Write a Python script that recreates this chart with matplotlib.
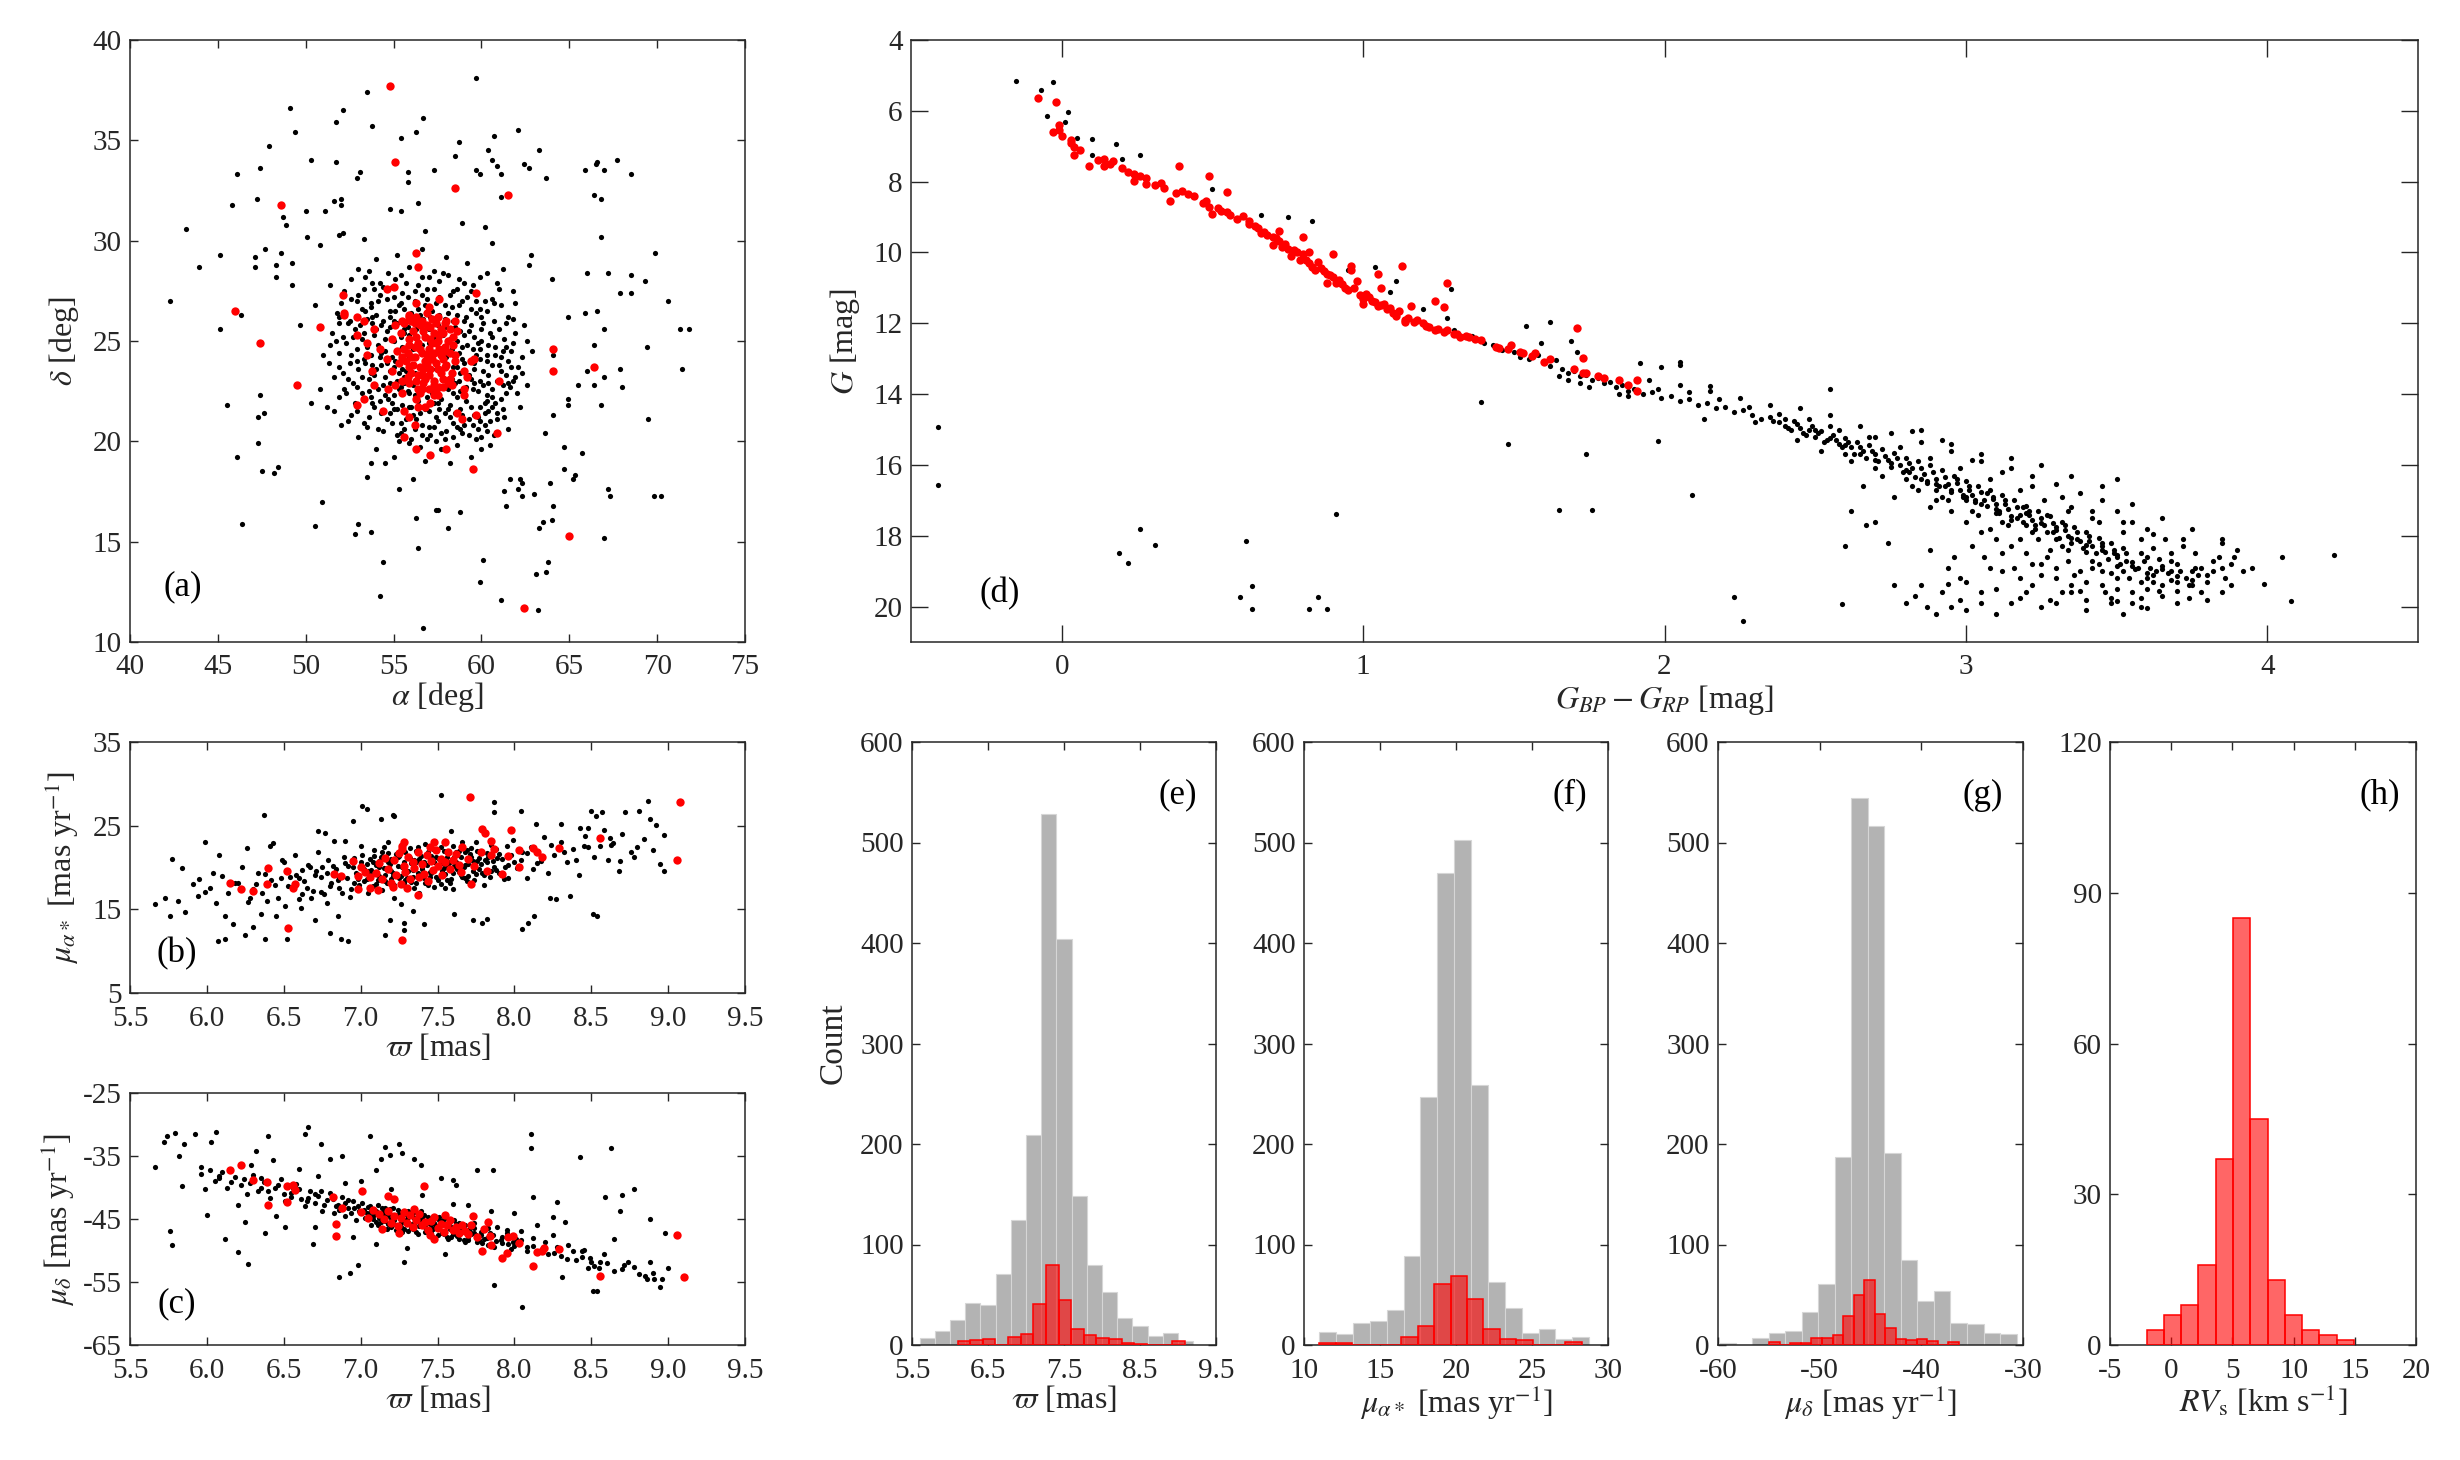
import numpy as np
import matplotlib.pyplot as plt
from matplotlib.ticker import FormatStrFormatter

plt.rcParams.update({
    "font.family": ["Liberation Serif", "DejaVu Serif"],
    "mathtext.fontset": "stix",
    "axes.unicode_minus": False,
    "axes.edgecolor": "#262626",
    "axes.linewidth": 1.1,
    "xtick.color": "#262626",
    "ytick.color": "#262626",
    "text.color": "#262626",
    "axes.labelcolor": "#262626",
})


def pairs(text):
    return np.array(text.split(), dtype=float).reshape(-1, 2)


# (a) sky positions: alpha, delta [deg]
sky_field = pairs("""
59.7 38.1 53.5 37.4 49.1 36.6 52.1 36.5 56.7 36.1 51.7 35.9 53.8 35.7 49.4 35.4 62.1 35.5 60.7 35.2
55.4 35.1 58.7 34.9 56.3 35.4 47.9 34.7 60.4 34.5 63.3 34.5 50.3 34.0 58.5 34.2 60.6 34.0 62.4 33.8
51.7 33.9 47.4 33.6 46.1 33.3 53.1 33.4 55.8 33.4 57.3 33.5 59.7 33.5 62.7 33.6 60.9 33.7 61.1 33.3
65.9 33.5 66.6 33.9 66.5 33.8 67.0 33.5 67.7 34.0 68.5 33.3 52.9 33.1 55.8 32.9 63.7 33.1 59.9 33.3
66.4 32.3 66.8 32.1 61.1 32.2 47.2 32.1 45.8 31.8 52.0 32.1 51.6 32.0 56.4 31.9 54.8 31.6 55.4 31.5
50.0 31.5 51.1 31.5 52.0 31.8 48.7 31.2 48.9 30.8 58.9 30.9 43.2 30.6 56.8 30.5 60.2 30.7 66.8 30.2
51.9 30.3 52.1 30.4 50.1 30.2 50.8 29.8 53.3 30.1 60.6 29.9 45.1 29.3 47.1 29.2 47.7 29.6 48.6 29.4
69.9 29.4 62.8 29.3 62.7 28.8 43.9 28.7 47.1 28.7 48.3 28.8 49.2 28.9 66.0 28.4 67.2 28.4 68.5 28.3
69.3 28.0 64.0 28.1 61.2 28.6 48.3 28.2 49.2 27.8 67.9 27.4 68.5 27.4 61.8 27.5 70.6 27.0 42.3 27.0
46.3 26.3 64.9 26.2 65.9 26.4 66.6 26.5 67.0 25.6 71.3 25.6 71.8 25.6 69.4 24.7 45.1 25.6 49.7 25.8
66.4 24.8 64.1 24.3 71.4 23.6 67.9 23.6 66.0 23.5 67.0 23.2 65.5 22.8 66.4 22.8 68.0 22.7 64.9 22.1
47.4 22.3 45.5 21.8 66.8 21.8 64.9 21.8 47.6 21.4 47.3 21.2 64.1 21.3 69.5 21.1 50.3 21.9 51.6 21.5
52.4 21.0 47.3 19.9 64.7 19.7 63.6 20.4 46.1 19.2 65.7 19.4 47.5 18.5 48.2 18.4 48.4 18.7 53.7 18.9
54.5 18.9 64.7 18.6 65.3 18.3 65.2 18.1 63.9 17.9 62.2 18.1 61.6 18.1 62.3 17.9 62.1 17.6 63.0 17.4
61.3 17.5 67.2 17.6 67.3 17.3 69.8 17.3 70.2 17.3 53.5 18.2 55.3 17.6 56.1 18.1 50.9 17.0 62.3 17.3
61.4 16.8 64.1 16.8 57.4 16.6 57.5 16.6 58.8 16.5 56.3 16.2 53.0 15.9 46.4 15.9 63.5 16.0 64.0 16.1
63.3 15.7 50.5 15.8 52.8 15.4 53.7 15.5 58.1 15.7 67.0 15.2 56.4 14.7 54.4 14.0 60.1 14.1 63.8 14.0
63.7 13.5 63.1 13.4 59.9 13.0 54.2 12.3 61.1 12.1 63.2 11.6 56.7 10.7
53.0 28.6 54.7 28.4 55.9 28.7 57.3 28.5 58.1 28.3 52.6 28.1 53.8 27.9 55.1 28.1 56.4 27.8 57.6 28.0
59.0 27.9 52.2 27.5 53.3 27.6 54.2 27.3 55.5 27.4 56.9 27.6 58.2 27.3 59.4 27.5 52.9 27.0 53.7 26.9
54.6 27.1 55.3 26.8 56.2 27.0 57.4 26.9 58.7 26.8 59.9 26.6 51.8 26.4 53.2 26.6 54.0 26.3 54.8 26.5
55.6 26.6 56.5 26.3 57.2 26.5 58.1 26.4 59.1 26.2 60.3 26.5 52.4 25.9 53.5 26.1 54.3 25.8 55.0 26.0
55.8 25.7 56.7 26.1 57.5 25.8 58.4 26.0 59.4 25.8 60.1 25.9 61.0 25.6 51.5 25.4 52.8 25.6 53.9 25.3
54.6 25.5 55.4 25.2 56.3 25.6 57.8 25.3 58.8 25.5 59.6 25.2 60.5 25.4 61.3 25.1 52.3 24.9 53.2 25.1
54.1 24.8 55.0 25.0 57.0 24.9 58.2 25.1 59.2 24.8 60.0 25.0 60.8 24.7 61.8 24.9 51.9 24.4 52.9 24.6
53.7 24.3 54.5 24.5 58.7 24.4 59.5 24.6 60.3 24.3 61.2 24.5 52.5 23.9 53.3 24.1 54.3 23.8 55.1 24.0
59.0 23.9 59.9 24.1 60.6 23.8 61.5 24.0 62.1 23.7 52.1 23.4 53.0 23.6 53.9 23.3 54.8 23.5 58.8 23.4
59.6 23.6 60.4 23.3 61.1 23.5 61.9 23.2 52.7 22.9 53.6 23.1 54.4 22.8 55.2 23.0 58.5 22.9 59.4 23.1
60.1 22.8 60.9 23.0 61.6 22.7 53.2 22.4 54.1 22.6 55.0 22.3 55.8 22.5 57.2 22.4 58.1 22.6 59.0 22.3
59.8 22.5 60.6 22.2 61.4 22.4 53.8 21.9 54.7 22.1 55.5 21.8 56.4 22.0 57.3 21.9 58.2 21.8 59.1 22.0
59.9 21.7 60.8 21.9 54.3 21.4 55.2 21.6 56.1 21.3 57.0 21.5 57.9 21.4 58.8 21.6 59.6 21.3 60.4 21.5
54.9 20.9 55.7 21.1 56.6 20.8 57.5 21.0 58.4 20.9 59.3 21.1 60.2 20.8 55.4 20.4 56.2 20.6 57.1 20.3
58.0 20.5 58.9 20.4 59.8 20.6 60.7 20.3 55.9 19.9 57.4 20.0 58.6 19.8 59.7 20.1 55.8 24.3 56.6 24.8
57.4 23.6 58.0 24.2 56.2 23.4 57.0 25.6 55.6 22.9 58.4 23.7 50.5 26.8 51.0 24.3 50.8 22.6 51.4 27.8
51.2 21.7 52.0 20.8 53.0 20.2 54.0 19.6 55.0 19.2 56.8 19.0 58.2 18.9 59.4 19.2 60.5 19.8 61.5 20.6
62.2 21.7 62.6 22.8 62.9 24.5 62.4 25.8 61.9 26.9 61.0 27.6 60.3 28.4 59.2 28.9 58.0 29.2 56.6 29.6
55.2 29.3 54.0 29.1 53.4 28.2 54.4 27.7 55.7 27.9 57.0 28.2 58.6 27.6 60.6 27.1 61.5 26.2 61.9 25.4
62.3 24.2 61.8 23.0 61.2 21.6 60.0 20.2 58.6 20.7 57.7 19.6 56.5 19.7 55.3 20.0 54.4 20.5 53.6 21.2
52.8 21.9 52.2 22.6 51.6 23.2 51.4 24.8 51.9 25.9 52.6 27.1 53.7 22.2 54.9 21.9 56.0 21.7 60.3 22.0
53.4 26.5 54.1 27.0 54.8 26.2 55.4 26.9 56.0 26.4 56.8 26.8 57.6 26.3 58.3 26.7 59.0 26.0 59.7 26.4
53.1 25.8 53.8 25.9 54.5 25.1 55.2 25.9 55.9 25.3 56.7 25.4 57.3 25.2 58.0 25.7 58.6 25.0 59.3 25.5
60.0 25.6 60.7 26.0 52.7 25.2 53.5 24.7 54.3 24.4 54.9 24.2 55.5 24.7 58.9 24.7 59.7 24.3 60.4 24.8
61.1 24.2 52.9 24.0 53.8 23.8 54.6 23.9 55.3 23.4 58.6 23.7 59.3 23.3 60.1 23.5 60.8 24.3 61.4 23.3
53.2 23.2 54.0 23.6 54.8 22.9 55.6 23.2 58.3 23.1 59.1 22.7 59.9 23.0 60.6 22.6 53.6 22.5 54.5 22.3
55.3 22.6 56.1 22.8 56.9 22.2 57.7 22.1 58.6 22.2 59.5 22.6 60.3 22.3 61.1 22.1 54.2 22.0 55.0 21.6
55.9 21.7 56.8 21.6 57.6 21.6 58.5 21.4 59.4 21.7 60.2 21.4 54.6 21.1 55.4 20.9 56.3 21.1 57.3 20.7
58.2 21.2 59.0 20.8 59.9 21.0 60.9 21.1 55.6 20.6 56.6 20.3 57.7 20.4 58.4 20.2 59.3 20.3 60.3 20.5
53.0 27.3 53.9 27.6 54.9 27.7 55.8 27.2 56.6 27.3 57.6 27.2 58.4 27.5 59.2 27.2 60.2 27.0 52.5 26.0
51.7 25.0 51.9 23.7 52.3 22.4 52.9 21.5 53.5 20.7 60.9 21.4 61.5 22.9 61.7 24.5 61.4 25.9 60.7 26.9
55.4 24.6 55.6 25.6 55.7 23.5 58.5 25.7 58.7 23.0 58.4 22.4 55.9 22.4 56.9 27.1 57.9 26.8
53.7 26.7 54.4 26.0 55.1 26.5 55.8 26.0 56.4 26.6 57.1 26.2 57.9 26.1 58.6 26.3 59.4 26.6 60.0 26.2
53.3 25.4 54.0 25.6 54.8 25.7 55.6 25.4 56.1 24.6 58.3 24.6 59.0 25.3 59.8 24.9 60.6 25.2 61.4 24.7
52.6 24.3 53.4 23.9 54.2 24.2 55.0 23.7 55.5 23.6 58.9 24.1 59.6 23.9 60.3 24.0 61.0 23.8 61.7 23.7
52.9 22.7 53.7 23.4 54.5 23.2 55.4 22.7 56.2 22.3 57.5 21.9 58.8 22.5 59.6 22.9 60.4 22.9 61.2 22.8
53.9 21.7 54.8 21.4 55.6 21.5 56.5 21.4 57.4 21.2 58.1 21.6 58.9 21.3 59.8 21.2 60.6 21.7 57.0 20.7
55.2 20.3 56.0 20.1 56.9 20.1 57.9 20.1 58.8 20.6 59.5 20.8 60.5 21.0 55.0 27.2 56.2 27.5 57.3 27.6
58.9 27.0 59.7 27.0 54.2 27.9 55.4 28.3 56.6 28.2 57.8 28.4 58.7 28.1 53.6 28.5 52.0 26.9 51.9 26.2
52.1 25.2 51.3 23.9 52.4 23.1 51.9 22.2 52.6 21.3 53.3 20.9 54.1 20.6 60.0 19.6 61.3 21.2 62.0 22.4
62.3 23.4 62.6 25.0 61.8 26.1 61.1 26.8 60.9 27.9 59.9 28.2 59.5 27.8 53.8 26.2 59.9 24.6 60.2 21.9
""")
sky_members = pairs("""
54.8 37.7 55.1 33.9 58.5 32.6 61.5 32.3 48.6 31.8 56.3 29.4 56.4 28.7 46.0 26.5 59.7 27.4 52.1 27.3
54.6 27.6 55.0 27.7 57.6 27.1 47.4 24.9 50.8 25.7 49.5 22.8 52.2 26.4 52.2 26.3 52.9 26.2 53.3 26.0
52.9 25.3 53.9 25.6 53.5 24.9 53.5 24.3 53.8 23.5 53.9 22.8 54.7 22.6 52.9 21.8 53.3 22.1 54.4 21.5
55.6 21.5 55.9 21.2 56.2 20.8 55.6 20.2 56.3 19.6 57.1 19.3 58.0 19.6 59.5 18.6 60.9 20.4 64.1 24.6
64.1 23.5 66.4 23.7 61.0 23.0 65.0 15.3 62.4 11.7 59.7 21.3 58.9 21.1 58.6 21.4 59.0 22.3 59.0 22.6
59.2 23.2 59.0 23.5 59.4 24.0 59.6 24.1 58.5 24.3 58.6 25.5 58.5 26.0 58.0 26.0 57.4 25.9 57.0 26.7
56.3 26.9 57.1 21.9 56.8 21.7 56.4 21.7 56.3 22.1 56.5 22.4 57.4 22.6 57.8 22.7 58.3 22.8 55.5 22.4
55.1 22.8 54.9 23.5 54.6 24.1 54.2 24.6 54.9 25.1 55.1 25.8 55.5 26.0 55.9 26.2 55.9 26.3
55.7 24.0 55.9 24.8 56.0 23.4 56.1 25.5 56.2 24.2 56.3 23.0 56.4 24.9 56.5 25.8 56.5 23.7 56.6 24.4
56.7 22.9 56.8 25.2 56.9 23.9 57.0 24.6 57.0 23.3 57.1 25.7 57.2 24.1 57.3 22.8 57.4 24.9 57.5 23.6
57.6 25.3 57.7 24.3 57.8 23.1 57.9 24.7 58.0 23.8 58.1 25.0 58.2 24.4 58.3 23.4 55.8 23.2 56.0 26.0
56.3 26.2 56.6 26.0 57.2 26.1 57.9 25.9 58.4 25.2 58.5 24.0 57.6 22.7 57.0 22.6 56.4 22.6 55.6 24.6
55.4 25.4 55.3 23.9 55.5 23.0 56.2 24.7 56.8 24.0 57.3 24.4 57.8 24.1 56.6 23.3 57.4 23.9 56.0 24.2
57.1 25.1 55.2 24.5 55.6 25.9 56.9 26.4 57.7 25.6 58.2 23.1 57.5 22.3 56.7 23.6 55.9 23.7 57.3 25.4
55.9 25.1 56.1 23.8 56.3 25.2 56.4 23.3 56.5 24.6 56.7 25.5 56.8 23.1 56.9 24.3 57.1 23.6 57.2 24.9
57.3 23.0 57.5 25.0 57.6 24.6 57.7 23.4 57.8 25.4 57.9 23.7 58.0 24.5 58.1 22.9 56.2 25.9 56.9 25.8
57.5 26.2 55.8 24.4 56.6 22.6 57.3 22.3 58.2 25.6 58.4 24.8 55.5 24.2 55.9 22.9
""")

# (b) parallax vs pm_ra*, (c) parallax vs pm_dec
plx_pmra_field = pairs("""
5.66 15.6 5.73 16.4 5.77 21.0 5.76 14.2 5.81 16.0 5.84 19.9 5.86 14.7 5.91 18.0 5.94 16.6 5.99 23.1
5.99 17.1 6.04 19.3 6.06 15.8 6.07 11.2 6.08 21.5 6.12 14.2 6.12 11.5 6.17 13.3 6.18 18.1 6.25 11.9
6.26 22.3 6.28 16.3 6.30 12.9 6.32 18.0 6.35 14.5 6.37 26.3 6.38 11.5 6.39 16.0 6.41 22.6 6.43 22.9
6.45 14.2 6.48 18.7 6.49 20.9 6.51 15.4 6.52 11.4 6.57 21.5 6.61 15.1 6.62 16.8 6.67 20.0 6.70 13.7
6.72 24.4 6.74 17.1 6.77 24.1 6.78 15.7 6.80 12.2 6.83 23.2 6.85 14.2 6.87 11.4 6.90 23.2 6.92 11.2
6.95 25.5 7.01 27.4 7.04 27.0 7.13 25.8 7.16 11.9 7.19 13.7 7.21 26.3 7.22 26.1 7.26 15.6 7.28 12.5
7.28 13.4 7.34 14.8 7.41 13.3 7.52 28.7 7.61 14.4 7.59 24.4 7.73 13.7 7.79 13.4 7.82 13.8 7.87 27.8
7.87 26.6 8.04 26.8 8.05 12.6 8.09 13.4 8.13 14.2 8.14 25.2 8.17 20.8 8.23 16.3 8.27 16.2 8.30 25.2
8.36 16.6 8.43 24.7 8.45 22.6 8.48 24.7 8.50 26.7 8.51 14.5 8.54 14.2 8.53 26.1 8.57 26.6 8.56 22.6
8.61 20.9 8.63 22.7 8.68 19.6 8.69 20.8 8.72 26.6 8.78 21.2 8.81 26.8 8.87 28.0 8.88 25.8 8.90 22.1
8.95 20.4 8.97 19.6 8.97 23.9
5.95 18.6 6.02 17.5 6.10 19.0 6.14 16.9 6.20 18.2 6.23 20.1 6.27 15.9 6.33 19.4 6.36 17.0 6.42 18.5
6.46 16.4 6.50 20.6 6.53 17.8 6.58 19.1 6.60 16.2 6.63 18.4 6.66 20.3 6.69 17.2 6.71 19.6 6.74 18.9
6.76 16.8 6.79 20.9 6.81 18.1 6.84 19.8 6.86 17.6 6.89 21.2 6.91 18.7 6.93 16.5 6.95 20.0 6.97 19.3
6.99 17.9 7.01 21.5 7.02 18.4 7.04 20.4 7.05 16.9 7.07 19.7 7.09 22.1 7.10 18.0 7.12 20.8 7.14 17.3
7.16 19.1 7.18 21.7 7.20 18.6 7.22 16.4 7.24 20.2 7.26 22.5 7.28 19.4 7.30 17.6 7.32 21.1 7.34 18.9
7.36 20.6 7.38 16.9 7.40 19.8 7.42 22.8 7.44 18.3 7.46 21.4 7.48 17.7 7.50 20.1 7.52 19.0 7.54 22.0
7.56 18.5 7.58 20.7 7.60 17.4 7.62 21.8 7.64 19.5 7.66 23.0 7.68 18.8 7.70 20.4 7.72 22.3 7.75 19.2
7.77 21.1 7.80 17.9 7.82 20.6 7.85 22.7 7.88 19.7 7.90 21.6 7.93 18.6 7.96 20.3 7.99 23.3 8.02 19.9
8.05 21.9 8.08 18.7 8.11 22.4 8.15 20.5 8.19 23.6 8.22 19.3 8.26 21.5 8.30 23.0 8.34 20.7 8.38 22.2
8.42 19.1 8.46 23.8 8.52 21.3 8.58 24.5 8.64 22.9 8.70 24.0 8.76 21.9 8.84 23.4 8.92 25.1
7.06 19.2 7.08 20.6 7.11 18.5 7.13 21.3 7.15 19.9 7.17 18.1 7.19 20.4 7.21 19.0 7.23 21.6 7.25 18.8
7.27 20.0 7.29 21.9 7.31 19.6 7.33 18.3 7.35 20.9 7.37 19.3 7.39 21.4 7.41 18.7 7.43 20.3 7.45 19.5
7.47 22.2 7.49 18.9 7.51 21.0 7.53 20.5 7.55 19.2 7.57 21.7 7.59 18.6 7.61 20.2 7.63 19.8 7.65 21.3
7.67 20.0 7.69 18.4 7.71 21.6 7.73 19.6 7.76 20.8 7.79 19.4 7.83 21.2 7.87 20.1 7.12 20.1 7.20 21.0
7.28 18.2 7.36 22.0 7.44 17.9 7.52 18.0 7.60 22.6 7.68 21.9 6.88 19.0 6.96 18.2 7.00 20.7 6.82 20.2
7.02 19.8 7.04 18.6 7.06 21.0 7.08 17.8 7.10 20.3 7.12 19.0 7.14 21.9 7.16 18.4 7.18 20.7 7.20 19.6
7.22 17.9 7.24 21.2 7.26 19.0 7.28 20.6 7.30 18.8 7.32 22.3 7.34 19.7 7.36 18.1 7.38 21.0 7.40 20.0
7.42 18.2 7.44 21.8 7.46 19.3 7.48 20.7 7.50 18.5 7.52 22.4 7.54 19.9 7.56 21.2 7.58 18.1 7.60 19.4
7.62 20.6 7.64 22.0 7.66 18.9 7.68 20.3 7.70 19.0 7.72 21.3 7.74 18.5 7.76 22.0 7.78 20.4 7.80 19.1
7.82 21.7 7.84 18.9 7.86 20.8 7.88 22.2 7.90 19.4 7.92 21.0 7.94 20.0 7.96 18.8 7.98 21.5 8.00 20.6
6.60 18.8 6.65 17.6 6.70 19.1 6.75 20.1 6.80 17.8 6.85 18.5 6.90 20.5 6.94 17.4 6.96 21.1 6.98 18.6
8.04 20.9 8.08 21.7 8.12 19.8 8.18 21.1 8.24 22.7 8.32 21.8 8.40 20.9 8.48 22.4 8.62 23.5 8.80 22.5
6.30 17.4 6.38 19.2 6.44 17.9 6.54 18.9 6.62 19.7 6.68 16.3 6.72 21.8 6.88 16.9 7.00 22.6 7.18 23.1
7.05 19.6 7.09 21.4 7.13 18.8 7.17 20.9 7.21 19.3 7.25 21.4 7.29 18.5 7.33 20.5 7.37 22.4 7.41 20.6
7.45 18.9 7.49 21.3 7.53 19.6 7.57 20.2 7.61 21.2 7.65 19.1 7.69 22.1 7.73 20.8 7.77 19.8 7.81 20.9
7.85 19.6 7.89 21.1 7.15 22.4 7.35 17.6 7.55 17.5 7.75 23.0 7.95 22.6 6.92 20.2 6.86 18.8 6.78 19.4
""")
plx_pmra_members = pairs("""
9.08 27.8 9.06 20.9 7.71 28.4 7.27 11.3 6.53 12.8 6.15 18.1 6.22 17.4 6.30 17.2 6.39 18.0 6.40 19.9
6.52 19.6 6.57 18.0 6.56 17.6 6.83 19.2 6.87 19.0 6.95 20.8 6.98 17.4 7.06 17.5 7.11 17.3 7.28 23.1
7.27 22.6 7.37 16.7 7.48 23.1 7.55 23.1 7.65 19.5 7.72 18.0 7.79 24.6 7.81 24.1 7.85 23.2 7.85 21.5
7.87 22.2 7.92 19.2 7.96 21.4 7.98 24.5 8.03 20.0 8.03 22.1 8.12 22.3 8.15 21.8 8.18 21.2 8.29 22.3
8.56 23.5
7.10 19.4 7.12 20.5 7.14 18.6 7.16 21.1 7.18 19.8 7.20 18.2 7.22 20.9 7.23 19.1 7.25 21.7 7.26 18.0
7.28 20.2 7.29 19.5 7.31 21.3 7.32 18.6 7.34 20.6 7.35 19.9 7.37 21.8 7.38 18.9 7.40 20.4 7.41 19.2
7.43 21.5 7.44 18.4 7.46 20.8 7.47 19.7 7.49 22.1 7.50 20.2 7.52 21.0 7.53 19.1 7.55 20.6 7.57 21.9
7.58 19.8 7.60 20.9 7.62 21.6 7.64 20.3 7.03 19.5 7.06 18.9 7.21 17.7 7.30 17.6 7.27 22.2 7.45 22.5
7.66 22.4 7.70 21.0 7.74 20.2 7.78 21.8 7.82 19.6 7.00 20.0 6.98 19.0
""")
plx_pmdec_field = pairs("""
5.66 -36.7 5.72 -32.7 5.74 -31.9 5.79 -31.3 5.76 -46.9 5.77 -49.2 5.82 -35.0 5.84 -39.8 5.85 -33.1
5.92 -31.5 5.96 -36.7 5.99 -40.2 6.00 -44.4 6.03 -32.7 6.06 -31.2 6.08 -38.5 6.12 -48.1 6.20 -50.2
6.25 -45.4 6.27 -52.2 6.29 -36.5 6.32 -34.2 6.35 -38.5 6.38 -47.3 6.40 -31.9 6.43 -35.6 6.51 -46.2
6.64 -31.5 6.66 -30.4 6.69 -49.0 6.74 -33.1 6.80 -35.4 6.88 -35.0 6.86 -54.2 6.93 -53.5 6.98 -52.3
7.06 -31.9 7.10 -37.3 7.13 -35.4 7.16 -33.5 7.19 -34.8 7.25 -33.1 7.27 -34.6 7.28 -51.9 7.35 -35.4
7.39 -36.5 7.52 -38.5 7.60 -38.8 7.62 -39.6 7.70 -42.7 7.76 -37.3 7.86 -37.3 7.87 -55.4 8.05 -59.0
8.11 -31.5 8.11 -33.8 8.12 -41.5 8.28 -42.3 8.26 -50.4 8.31 -54.2 8.33 -45.4 8.43 -35.2 8.44 -50.0
8.48 -52.7 8.49 -51.2 8.51 -56.5 8.54 -56.5 8.56 -51.9 8.59 -41.5 8.63 -33.8 8.65 -48.1 8.69 -43.8
8.70 -41.2 8.71 -52.3 8.78 -40.2 8.81 -53.8 8.86 -54.6 8.88 -45.0 8.88 -51.9 8.91 -54.6 8.95 -55.8
8.96 -54.6 8.98 -47.3 9.00 -52.8
6.05 -38.9 6.10 -37.6 6.13 -40.0 6.18 -38.3 6.22 -39.6 6.26 -41.0 6.30 -38.0 6.33 -40.5 6.37 -39.2
6.41 -41.6 6.44 -40.1 6.48 -38.7 6.51 -42.2 6.55 -40.8 6.58 -39.5 6.61 -41.9 6.64 -43.0 6.67 -40.6
6.70 -42.5 6.72 -41.3 6.75 -43.8 6.78 -42.0 6.80 -40.9 6.83 -44.1 6.85 -42.8 6.88 -41.5 6.90 -44.6
6.92 -43.3 6.95 -42.1 6.97 -45.2 6.99 -43.7 7.01 -42.4 7.03 -44.9 7.05 -43.1 7.07 -46.0 7.09 -44.3
7.11 -42.8 7.13 -45.5 7.15 -43.9 7.17 -46.6 7.19 -44.7 7.21 -43.3 7.23 -45.9 7.25 -44.2 7.27 -47.0
7.29 -45.3 7.31 -43.8 7.33 -46.4 7.35 -44.8 7.37 -47.4 7.39 -45.7 7.41 -44.3 7.43 -46.9 7.45 -45.2
7.47 -47.8 7.49 -46.1 7.51 -44.7 7.53 -47.3 7.55 -45.8 7.57 -48.2 7.59 -46.5 7.61 -45.1 7.63 -47.7
7.65 -46.2 7.68 -48.6 7.71 -47.0 7.74 -45.6 7.77 -48.3 7.80 -46.8 7.83 -49.1 7.86 -47.5 7.89 -46.2
7.92 -48.8 7.95 -47.3 7.98 -49.7 8.01 -48.1 8.04 -46.9 8.08 -49.4 8.12 -48.0 8.16 -50.3 8.20 -48.7
8.25 -47.6 8.30 -50.8 8.35 -49.2 8.40 -51.5 8.45 -49.9 8.52 -52.4 8.58 -50.6 8.65 -53.3 8.74 -51.8
8.85 -54.0 6.20 -42.7 6.45 -44.6 6.60 -37.0 6.72 -38.2 6.90 -39.3 7.00 -38.9 7.20 -40.2 7.40 -41.2
7.60 -42.6 7.85 -43.8 8.00 -44.1 8.15 -45.9 8.25 -44.7 7.10 -49.0 7.30 -49.6 7.55 -50.6 6.95 -47.9
6.70 -46.3 7.06 -44.5 7.10 -45.4 7.14 -44.0 7.18 -45.8 7.22 -44.6 7.26 -46.2 7.30 -45.0 7.34 -46.6
7.38 -45.4 7.42 -47.0 7.46 -45.9 7.50 -46.5 7.54 -47.4 7.58 -46.1 7.62 -47.1 7.66 -46.8 7.70 -47.8
7.74 -47.2 7.78 -47.5 7.82 -48.0 7.16 -43.2 7.28 -44.0 7.40 -44.9 7.52 -45.3 7.64 -45.7
7.02 -43.6 7.04 -44.1 7.06 -42.9 7.08 -45.0 7.10 -43.7 7.12 -44.8 7.14 -43.2 7.16 -45.3 7.18 -44.3
7.20 -46.3 7.22 -45.1 7.24 -43.6 7.26 -45.6 7.28 -46.6 7.30 -44.3 7.32 -45.8 7.34 -44.1 7.36 -47.0
7.38 -46.1 7.40 -45.0 7.42 -46.3 7.44 -44.7 7.46 -47.2 7.48 -45.6 7.50 -47.6 7.52 -46.0 7.54 -45.0
7.56 -47.8 7.58 -46.6 7.60 -47.4 7.62 -45.8 7.64 -48.1 7.66 -47.0 7.68 -46.0 7.70 -48.3 7.72 -47.4
7.74 -46.5 7.76 -48.6 7.78 -47.0 7.80 -48.2 7.84 -47.2 7.88 -48.5 7.92 -47.9 7.96 -48.9 8.00 -49.3
8.04 -48.4 8.08 -50.0 8.12 -49.3 8.18 -49.8 8.22 -50.6 6.55 -41.5 6.60 -40.3 6.65 -42.2 6.70 -41.0
6.76 -42.8 6.82 -41.9 6.86 -43.6 6.90 -42.4 6.94 -44.0 6.98 -42.9 6.40 -40.5 6.46 -39.6 6.50 -41.0
6.35 -40.0 6.28 -39.3 6.24 -38.6 6.16 -39.2 6.08 -38.2 6.02 -37.3 5.96 -37.8 8.28 -49.5 8.34 -51.3
8.38 -50.1 8.44 -51.0 8.50 -51.9 8.55 -52.8 8.60 -52.0 8.70 -53.0 8.78 -52.6 8.90 -53.6
7.07 -43.8 7.11 -45.9 7.15 -44.6 7.19 -43.4 7.23 -46.8 7.27 -45.0 7.31 -46.9 7.35 -45.7 7.39 -43.8
7.43 -45.6 7.47 -46.6 7.51 -45.1 7.55 -46.9 7.59 -47.8 7.63 -46.5 7.67 -48.4 7.71 -46.4 7.75 -47.6
7.79 -48.8 7.83 -46.4 7.87 -49.4 7.91 -48.3 7.95 -46.7 7.99 -48.6 6.96 -43.3 6.92 -42.0 6.84 -42.9
6.74 -40.5 6.66 -41.6 6.56 -40.0
""")
plx_pmdec_members = pairs("""
6.15 -37.3 6.22 -36.4 6.30 -38.8 6.39 -39.2 6.40 -42.8 6.52 -39.8 6.56 -39.6 6.57 -40.4 6.52 -42.3
6.82 -41.5 6.84 -45.8 6.84 -47.7 6.88 -43.3 7.01 -40.6 7.18 -41.3 7.22 -41.8 7.41 -39.8 7.48 -48.2
7.73 -44.6 7.79 -50.0 7.83 -45.4 7.84 -47.7 7.85 -49.2 7.92 -51.2 7.95 -50.4 7.96 -47.9 7.99 -47.7
8.03 -48.8 8.12 -52.5 8.15 -50.2 8.18 -50.0 8.19 -49.6 8.29 -49.8 8.56 -54.0 9.06 -47.5 9.10 -54.2
7.12 -44.2 7.15 -45.0 7.18 -43.8 7.20 -45.6 7.22 -44.5 7.24 -46.1 7.26 -44.9 7.28 -43.9 7.30 -45.7
7.32 -44.4 7.34 -46.3 7.36 -45.1 7.38 -44.2 7.40 -46.0 7.42 -45.4 7.44 -46.8 7.46 -45.3 7.48 -44.7
7.50 -46.5 7.52 -45.8 7.54 -47.1 7.56 -46.0 7.58 -45.2 7.60 -46.7 7.62 -46.2 7.64 -47.3 7.66 -45.9
7.68 -46.9 7.70 -47.4 7.08 -43.5 7.05 -44.8 7.14 -46.6 7.25 -47.2 7.35 -43.4 7.45 -47.6 7.55 -44.3
7.72 -46.0 7.76 -47.9 7.80 -46.6 7.00 -43.9
""")

# (d) colour-magnitude diagram: BP-RP, G
cmd_field = pairs("""
-0.15 5.15 -0.07 5.41 -0.03 5.19 -0.05 6.15 0.02 6.03 0.01 6.32 0.05 6.77 0.10 6.80 0.18 6.94 0.10 7.26
0.20 7.35 0.26 7.25 0.50 8.21 0.66 8.93 0.83 9.10 1.04 10.42 1.11 10.81 1.09 11.11 1.29 11.04 1.28 11.84
1.54 12.09 1.62 11.95 1.69 12.49 1.59 12.57 1.71 12.82 1.92 13.11 1.99 13.24 2.05 13.18 2.05 13.09
1.39 14.23 -0.41 14.93 -0.41 16.58 1.48 15.42 1.74 15.70 1.98 15.33 2.09 16.84 1.65 17.28 1.76 17.26
0.91 17.39 0.26 17.81 0.31 18.25 0.19 18.50 0.22 18.78 0.61 18.16 0.63 19.42 0.59 19.74 0.63 20.08
0.85 19.72 0.82 20.08 0.88 20.08 2.23 19.72 2.26 20.40 2.59 19.92 2.60 18.28 2.67 17.71 2.74 18.20
3.50 16.39 4.05 18.59 4.22 18.55 3.99 19.35 4.08 19.84 2.55 13.86 2.15 13.76 2.13 14.69
1.36 12.35 1.40 12.55 1.43 12.60 1.46 12.75 1.50 12.80 1.52 12.95 1.55 13.00 1.58 12.90 1.60 13.10
1.62 13.20 1.64 13.05 1.66 13.30 1.68 13.40 1.70 13.35 1.72 13.50 1.74 13.45 1.76 13.60 1.78 13.55
1.80 13.70 1.82 13.65 1.84 13.80 1.86 13.75 1.88 13.90 1.90 13.85 1.93 14.00 1.96 13.95 1.99 14.10
2.02 14.05 2.05 14.20 2.08 14.15 2.11 14.30 2.14 14.25 2.17 14.40 2.20 14.35 2.23 14.50 2.26 14.45
2.29 14.60 2.32 14.70 2.35 14.65 2.38 14.80 2.40 14.90 2.42 15.00 2.44 14.85 2.46 15.10 2.48 15.00
2.50 15.20 2.52 15.05 2.54 15.30 2.56 15.15 2.58 15.40 2.60 15.25 2.62 15.50 2.64 15.35 2.66 15.60
2.68 15.45 2.70 15.70 2.72 15.55 2.74 15.85 2.76 15.65 2.78 16.00 2.80 15.80 2.82 16.10 2.84 15.90
2.86 16.25 2.88 16.00 2.90 16.40 2.92 16.15 2.94 16.55 2.96 16.30 2.98 16.70 3.00 16.45 3.02 16.85
3.04 16.60 3.06 17.00 3.08 16.70 3.10 17.10 3.12 16.85 3.14 17.25 3.16 17.00 3.18 17.40 3.20 17.15
3.22 17.55 3.24 17.30 3.26 17.70 3.28 17.45 3.30 17.85 3.32 17.60 3.34 18.00 3.36 17.75 3.38 18.15
3.40 17.90 3.42 18.30 3.44 18.05 3.46 18.45 3.48 18.20 3.50 18.60 3.52 18.35 3.55 18.75 3.58 18.50
3.61 18.90 3.64 18.65 3.67 19.05 3.70 18.80 3.73 19.20 3.76 18.90 3.80 19.30 3.85 18.20 3.88 18.80
3.92 19.00 3.72 18.30 3.66 18.10 3.60 17.80 3.55 17.60 3.50 17.30 3.45 17.00 3.38 16.80 3.30 16.55
3.22 16.30 3.15 16.10 3.05 15.90 2.95 15.60 2.85 15.35 2.75 15.10 2.65 14.90 2.55 14.60 2.45 14.40
2.35 14.30 2.25 14.10 2.15 13.90 2.05 13.75 1.95 13.60 2.52 15.60 2.62 15.90 2.72 16.30 2.82 16.60
2.92 16.90 3.02 17.30 3.12 17.60 3.22 17.90 3.32 18.30 3.42 18.70 3.52 19.00 3.62 19.30 3.27 18.60
3.36 19.10 3.45 19.40 3.55 19.60 3.65 19.70 3.40 19.80 3.48 19.90 3.58 20.00 3.30 19.90 3.20 19.60
3.15 19.90 3.10 19.50 3.05 19.90 2.98 19.80 2.92 19.60 2.87 20.00 2.83 19.70 2.80 19.90 2.90 20.20
3.00 20.10 3.08 18.90 3.18 19.20 3.25 19.10 3.35 19.40 3.42 18.90 3.50 19.20 3.60 19.50 3.70 19.55
3.78 19.60 3.46 19.60 3.12 18.50 3.22 18.80 2.96 18.60 3.02 18.30 3.30 18.90 2.55 14.90 2.70 15.20
2.85 15.00 2.95 15.40 3.05 15.70 3.15 15.80 3.25 16.00 3.35 16.30 3.45 16.60 3.55 17.10 3.65 17.50
3.75 17.80 3.85 18.10 2.81 16.20 2.87 16.50 2.93 16.60 2.99 16.90 3.03 17.00 3.07 16.80 3.11 17.30
3.13 17.00 3.17 17.50 3.19 17.20 3.23 17.70 3.27 17.40 3.29 17.90 3.33 17.70 3.37 18.10 3.41 18.00
3.45 18.30 3.49 18.50 3.53 18.70 3.57 18.90 3.63 19.00 2.97 16.40 3.01 16.60 3.09 16.90 3.21 17.30
1.65 13.50 1.72 13.70 1.75 13.80 1.68 13.60 1.85 14.00 1.88 14.05 0.75 9.00 0.95 10.50 1.20 11.60
1.30 12.20 3.68 18.50 3.82 18.70 3.90 18.40 3.35 17.20 3.42 17.50 3.58 18.10 3.75 19.00 2.76 19.40
2.36 14.75 2.41 14.95 2.43 14.75 2.47 15.15 2.49 14.90 2.51 15.10 2.53 15.35 2.57 15.30 2.59 15.50
2.61 15.35 2.63 15.70 2.65 15.50 2.67 15.80 2.69 15.60 2.71 15.90 2.73 15.75 2.75 16.05 2.77 15.80
2.79 16.20 2.81 15.95 2.83 16.35 2.85 16.10 2.87 16.45 2.89 16.20 2.91 16.60 2.93 16.35 2.95 16.75
2.97 16.50 2.99 16.85 3.01 16.70 3.03 17.05 3.05 16.75 3.07 17.15 3.09 16.95 3.11 17.35 3.13 17.10
3.15 17.45 3.17 17.20 3.19 17.60 3.21 17.40 3.23 17.80 3.25 17.50 3.27 17.90 3.29 17.65 3.31 18.05
3.33 17.85 3.35 18.20 3.37 17.90 3.39 18.35 3.41 18.15 3.43 18.50 3.45 18.20 3.47 18.65 3.49 18.40
3.51 18.80 3.53 18.50 3.56 18.95 3.59 18.70 3.62 19.10 3.65 18.85 3.68 19.25 3.71 19.00 3.74 19.40
3.77 19.10 3.82 19.00 3.86 19.20 3.89 18.60 3.95 18.90 2.90 17.00 2.95 17.30 3.00 17.60 3.05 17.90
3.10 18.10 3.15 18.30 3.20 18.50 3.25 18.80 3.30 19.20 3.35 19.60 3.40 19.30 3.45 19.00 3.50 19.50
3.55 19.90 3.60 19.20 3.65 19.40 3.70 19.90 3.75 19.40 3.80 19.80 3.85 19.60 3.25 20.00 3.10 20.20
2.95 20.00 2.85 19.40 3.00 19.30 3.12 19.00 3.22 19.40 3.32 19.60 3.38 19.00 3.48 19.75 3.58 19.30
3.68 18.70 3.76 18.50 3.84 18.60 3.62 18.35 3.52 17.90 3.44 17.60 3.34 17.30 3.26 17.00 3.18 16.70
3.08 16.40 2.98 16.10 2.88 15.80 2.78 15.50 2.68 15.20 2.58 15.00 2.48 14.70 2.38 14.55 2.28 14.35
2.18 14.15 2.08 13.95 1.98 13.85 2.30 14.80 2.44 15.30 2.60 15.70 2.70 16.10 2.80 16.40 2.90 16.70
3.00 17.00 3.10 17.35 3.20 17.70 3.30 18.10 3.40 18.45 3.50 18.85 3.60 19.05 3.70 19.30 2.66 16.60
2.76 16.90 3.06 18.60 3.16 18.90 2.94 18.90 2.88 18.40 3.40 20.10 3.52 20.20 3.34 18.70 2.62 17.30
2.70 17.60 2.98 19.20 3.18 19.75
2.40 14.70 2.45 14.95 2.50 15.00 2.55 15.25 2.60 15.45 2.65 15.70 2.70 15.85 2.75 15.95 2.80 16.15
2.85 16.40 2.90 16.55 2.95 16.70 3.00 16.90 3.05 17.10 3.10 17.25 3.15 17.55 3.20 17.35 3.25 17.65
3.30 17.75 3.35 18.05 3.40 18.25 3.45 18.40 3.50 18.55 3.55 18.85 3.60 18.60 3.65 18.95 3.70 19.15
3.75 19.25 3.80 19.10 3.85 18.90 2.84 16.70 2.94 17.00 3.04 17.40 3.14 17.70 3.24 18.10 3.34 18.40
3.44 18.80 3.54 19.20 3.64 19.55 3.74 19.75 2.88 17.20 3.08 17.80 3.28 18.40 3.48 19.05 3.68 19.00
3.78 18.90 3.88 19.40 3.58 19.75 3.38 19.55 3.18 18.10 3.02 15.85 3.12 16.20 3.22 16.60 3.32 16.90
3.42 17.30 3.52 17.60 3.62 17.95 3.72 18.10 2.92 15.30 2.82 15.05 3.60 20.05 3.50 19.85 3.28 19.80
3.05 19.60 2.94 19.35
""")
cmd_members = pairs("""
-0.08 5.64 -0.02 5.76 -0.03 6.60 -0.01 6.40 0.00 6.70 0.03 6.83 0.04 7.03 0.04 7.24 0.09 7.55 0.14 7.35
0.14 7.55 0.17 7.42 0.20 7.61 0.22 7.72 0.24 7.78 0.24 7.97 0.26 7.84 0.28 8.06 0.31 8.10 0.34 8.19
0.36 8.54 0.39 7.57 0.38 8.32 0.42 8.35 0.49 7.84 0.48 8.56 0.49 8.71 0.53 8.84 0.55 8.30 0.55 8.87
0.60 8.97 0.62 9.10 0.65 9.30 0.67 9.42 0.70 9.55 0.72 9.68 0.74 9.75 0.80 9.55 0.77 9.94 0.80 10.05
0.81 10.20 0.83 10.40 0.85 10.27 0.90 10.05 0.87 10.52 0.89 10.65 0.92 10.78 0.94 11.00 0.96 10.37
0.98 10.80 1.01 11.17 1.03 11.37 1.05 10.60 1.06 11.48 1.09 11.56 1.13 10.37 1.11 11.80 1.14 11.90
1.17 11.95 1.21 12.08 1.24 11.37 1.27 11.53 1.28 10.85 1.28 12.20 1.31 12.31 1.35 12.38 1.39 12.47
1.44 12.66 1.48 12.72 1.49 12.60 1.53 12.85 1.56 12.92 1.60 13.09 1.71 12.14 1.73 12.98 1.73 13.40
1.80 13.54 1.91 13.60 1.91 13.92
0.58 9.05 0.62 9.20 0.64 9.25 0.66 9.45 0.68 9.50 0.71 9.60 0.73 9.85 0.75 9.90 0.76 10.10 0.78 10.00
0.79 10.20 0.82 10.30 0.84 10.50 0.86 10.45 0.88 10.60 0.90 10.70 0.91 10.85 0.93 10.90 0.95 11.05
0.97 11.00 0.99 11.20 1.00 11.30 1.02 11.25 1.04 11.40 1.05 11.50 1.07 11.45 1.08 11.60 1.10 11.70
1.12 11.65 1.15 11.85 1.18 11.90 1.20 12.00 1.22 12.10 1.25 12.15 1.27 12.25 1.30 12.30 1.32 12.40
1.34 12.35 1.37 12.45 1.45 12.70 1.52 12.80 1.57 12.85 1.62 13.00 1.70 13.30 1.74 13.40 1.78 13.50
1.85 13.60 1.88 13.75 0.28 7.90 0.33 8.05 0.40 8.25 0.44 8.40 0.47 8.60 0.52 8.75 0.12 7.40 0.16 7.50
0.06 7.10 0.03 6.90 -0.01 6.55 0.50 8.90 0.56 8.95 0.72 9.40 0.82 10.00 0.96 10.50 1.06 11.00
1.16 11.50 0.88 10.85 1.00 11.45 1.14 11.95 1.24 12.20 0.70 9.80
""")

# histograms (e)-(h): bin start, bin width, counts; grey = all stars, red = members
plx_all_start, plx_all_width = 5.6, 0.2
plx_all_counts = [7, 14, 25, 42, 40, 71, 124, 209, 528, 404, 148, 80, 53, 27, 19, 9, 12, 4]
plx_mem_start, plx_mem_width = 6.10, 0.166
plx_mem_counts = [4, 5, 6, 0, 8, 11, 41, 80, 45, 16, 10, 7, 6, 2, 1, 0, 0, 4]

pmra_all_start, pmra_all_width = 11.0, 1.11
pmra_all_counts = [13, 11, 22, 24, 35, 89, 247, 470, 502, 259, 63, 37, 12, 16, 6, 8]
pmra_mem_start, pmra_mem_width = 11.0, 1.08
pmra_mem_counts = [2, 2, 0, 0, 0, 8, 19, 61, 69, 46, 16, 6, 5, 0, 0, 3]

pmdec_all_start, pmdec_all_width = -59.9, 1.626
pmdec_all_counts = [2, 0, 7, 12, 14, 33, 61, 187, 544, 516, 191, 85, 44, 54, 22, 21, 12, 11]
pmdec_mem_start, pmdec_mem_width = -54.95, 1.036
pmdec_mem_counts = [3, 0, 2, 2, 7, 7, 10, 29, 50, 65, 31, 17, 6, 5, 6, 4, 0, 3]

rv_mem_start, rv_mem_width = -2.0, 1.41
rv_mem_counts = [3, 6, 8, 16, 37, 85, 45, 13, 6, 3, 2, 1]

TICK_FS = 21
LABEL_FS = 23
PANEL_FS = 25
RED_FILL = (1.0, 0.0, 0.0, 0.6)


def style(ax, ticklen=5.5):
    ax.tick_params(direction="in", top=True, right=True, length=ticklen,
                   width=1.0, labelsize=TICK_FS)
    ax.tick_params(axis="x", pad=9)
    ax.tick_params(axis="y", pad=6)


def panel_label(ax, text, x, y):
    ax.text(x, y, text, transform=ax.transAxes, fontsize=PANEL_FS,
            ha="center", va="center", color="black")


def scatter(ax, field, members):
    ax.scatter(field[:, 0], field[:, 1], s=14, c="black", linewidths=0, zorder=2)
    ax.scatter(members[:, 0], members[:, 1], s=36, c="red", linewidths=0, zorder=3)


def hist(ax, start, width, counts, **kw):
    counts = np.asarray(counts, dtype=float)
    left = start + width * np.arange(len(counts))
    ax.bar(left, counts, width=width, align="edge", **kw)


def grey_hist(ax, start, width, counts):
    hist(ax, start, width, counts, color="#b3b3b3", edgecolor="#d6d6d6", linewidth=0.8, zorder=2)


def red_hist(ax, start, width, counts):
    hist(ax, start, width, counts, color=RED_FILL, edgecolor="red", linewidth=1.1, zorder=3)


W, H = 2460, 1460
fig = plt.figure(figsize=(W / 100, H / 100), dpi=100)


def axes_px(left, top, right, bottom):
    return fig.add_axes([left / W, 1 - bottom / H, (right - left) / W, (bottom - top) / H])


# (a)
ax = axes_px(130, 40, 745, 642)
scatter(ax, sky_field, sky_members)
ax.set_xlim(40, 75)
ax.set_ylim(10, 40)
ax.set_xticks(np.arange(40, 76, 5))
ax.set_yticks(np.arange(10, 41, 5))
ax.set_xlabel(r"$\alpha$ [deg]", fontsize=LABEL_FS, labelpad=0)
ax.set_ylabel(r"$\delta$ [deg]", fontsize=LABEL_FS, labelpad=8)
style(ax)
panel_label(ax, "(a)", 0.085, 0.092)

# (b)
ax = axes_px(130, 742, 745, 993)
scatter(ax, plx_pmra_field, plx_pmra_members)
ax.set_xlim(5.5, 9.5)
ax.set_ylim(5, 35)
ax.set_xticks(np.arange(5.5, 9.51, 0.5))
ax.set_yticks([5, 15, 25, 35])
ax.xaxis.set_major_formatter(FormatStrFormatter("%.1f"))
ax.set_xlabel(r"$\varpi$ [mas]", fontsize=LABEL_FS, labelpad=0)
ax.set_ylabel(r"$\mu_{\alpha*}$ [mas yr$^{-1}$]", fontsize=LABEL_FS, labelpad=8)
style(ax)
panel_label(ax, "(b)", 0.076, 0.155)

# (c)
ax = axes_px(130, 1093, 745, 1345)
scatter(ax, plx_pmdec_field, plx_pmdec_members)
ax.set_xlim(5.5, 9.5)
ax.set_ylim(-65, -25)
ax.set_xticks(np.arange(5.5, 9.51, 0.5))
ax.set_yticks([-65, -55, -45, -35, -25])
ax.xaxis.set_major_formatter(FormatStrFormatter("%.1f"))
ax.set_xlabel(r"$\varpi$ [mas]", fontsize=LABEL_FS, labelpad=0)
ax.set_ylabel(r"$\mu_{\delta}$ [mas yr$^{-1}$]", fontsize=LABEL_FS, labelpad=4)
style(ax)
panel_label(ax, "(c)", 0.076, 0.163)

# (d)
ax = axes_px(911, 40, 2418, 642)
scatter(ax, cmd_field, cmd_members)
ax.set_xlim(-0.5, 4.5)
ax.set_ylim(21, 4)
ax.set_xticks(np.arange(0, 5, 1))
ax.set_yticks(np.arange(4, 21, 2))
ax.set_xlabel(r"$G_{BP} - G_{RP}$ [mag]", fontsize=LABEL_FS, labelpad=2)
ax.set_ylabel(r"$G$ [mag]", fontsize=LABEL_FS, labelpad=8)
style(ax, ticklen=12)
panel_label(ax, "(d)", 0.059, 0.08)

# (e)
ax = axes_px(912, 742, 1216, 1345)
grey_hist(ax, plx_all_start, plx_all_width, plx_all_counts)
red_hist(ax, plx_mem_start, plx_mem_width, plx_mem_counts)
ax.set_xlim(5.5, 9.5)
ax.set_ylim(0, 600)
ax.set_xticks([5.5, 6.5, 7.5, 8.5, 9.5])
ax.xaxis.set_major_formatter(FormatStrFormatter("%.1f"))
ax.set_yticks(np.arange(0, 601, 100))
ax.set_xlabel(r"$\varpi$ [mas]", fontsize=LABEL_FS, labelpad=0)
ax.set_ylabel("Count", fontsize=LABEL_FS + 1, labelpad=8)
style(ax)
panel_label(ax, "(e)", 0.873, 0.912)

# (f)
ax = axes_px(1304, 742, 1608, 1345)
grey_hist(ax, pmra_all_start, pmra_all_width, pmra_all_counts)
red_hist(ax, pmra_mem_start, pmra_mem_width, pmra_mem_counts)
ax.set_xlim(10, 30)
ax.set_ylim(0, 600)
ax.set_xticks([10, 15, 20, 25, 30])
ax.set_yticks(np.arange(0, 601, 100))
ax.set_xlabel(r"$\mu_{\alpha*}$ [mas yr$^{-1}$]", fontsize=LABEL_FS, labelpad=0)
style(ax)
panel_label(ax, "(f)", 0.873, 0.912)

# (g)
ax = axes_px(1718, 742, 2023, 1345)
grey_hist(ax, pmdec_all_start, pmdec_all_width, pmdec_all_counts)
red_hist(ax, pmdec_mem_start, pmdec_mem_width, pmdec_mem_counts)
ax.set_xlim(-60, -30)
ax.set_ylim(0, 600)
ax.set_xticks([-60, -50, -40, -30])
ax.set_yticks(np.arange(0, 601, 100))
ax.set_xlabel(r"$\mu_{\delta}$ [mas yr$^{-1}$]", fontsize=LABEL_FS, labelpad=0)
style(ax)
panel_label(ax, "(g)", 0.867, 0.912)

# (h)
ax = axes_px(2110, 742, 2416, 1345)
red_hist(ax, rv_mem_start, rv_mem_width, rv_mem_counts)
ax.set_xlim(-5, 20)
ax.set_ylim(0, 120)
ax.set_xticks(np.arange(-5, 21, 5))
ax.set_yticks(np.arange(0, 121, 30))
ax.set_xlabel(r"$RV_{\rm s}$ [km s$^{-1}$]", fontsize=LABEL_FS, labelpad=0)
style(ax)
panel_label(ax, "(h)", 0.88, 0.912)

fig.savefig("out.png", dpi=100, facecolor="white")
